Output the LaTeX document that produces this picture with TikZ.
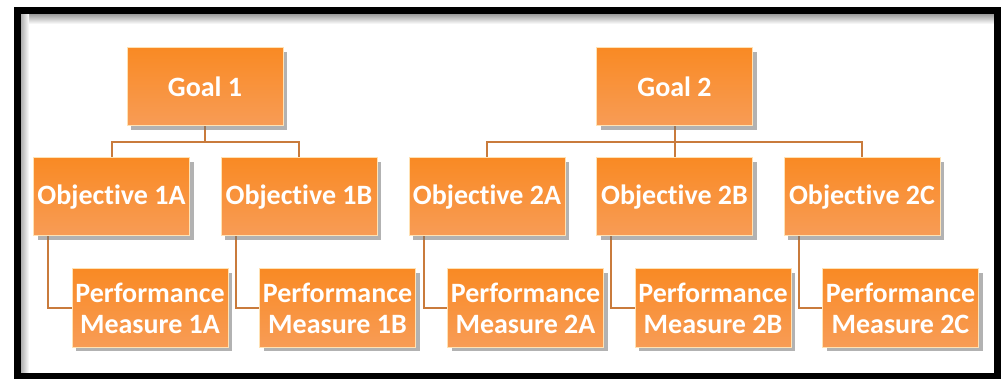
\documentclass[tikz,border=0pt]{standalone}
\usepackage{fontspec}
\setmainfont{Carlito}[Ligatures={NoCommon,NoDiscretionary}]
\usetikzlibrary{shadows,backgrounds}

\definecolor{boxtop}{HTML}{F98A24}
\definecolor{boxbot}{HTML}{F89C56}
\definecolor{boxedge}{HTML}{FFE2B4}
\definecolor{linkcol}{HTML}{C97B3C}

\tikzset{
  goalbox/.style={rectangle, top color=boxtop, bottom color=boxbot,
    draw=boxedge, line width=1pt, minimum width=156pt, minimum height=78pt,
    inner sep=0pt, align=center, text=white,
    font=\fontsize{28}{31}\selectfont\bfseries,
    drop shadow={shadow xshift=4pt, shadow yshift=-4pt, fill=black!55, opacity=0.55}},
  link/.style={draw=linkcol, line width=2pt}
}

\begin{document}
\begin{tikzpicture}[x=1pt, y=-1pt]
        \useasboundingbox (0,0) rectangle (1001,379);

        % frame
        \shade[top color=black!35, bottom color=white] (20,15) rectangle (994,24);
        \shade[left color=black!35, right color=white] (20,15) rectangle (29,373);
        \draw[line width=7pt] (17,11) rectangle (997,376);

        % goals
        \node[goalbox] (g1) at (205,87) {Goal 1};
        \node[goalbox] (g2) at (674.5,87) {Goal 2};

        % objectives
        \node[goalbox] (o1a) at (111.5,197) {Objective 1A};
        \node[goalbox] (o1b) at (299,197) {Objective 1B};
        \node[goalbox] (o2a) at (487,197) {Objective 2A};
        \node[goalbox] (o2b) at (674.5,197) {Objective 2B};
        \node[goalbox] (o2c) at (862,197) {Objective 2C};

        % performance measures
        \node[goalbox] (p1a) at (150,308) {Performance\\Measure 1A};
        \node[goalbox] (p1b) at (337.5,308) {Performance\\Measure 1B};
        \node[goalbox] (p2a) at (525.5,308) {Performance\\Measure 2A};
        \node[goalbox] (p2b) at (713,308) {Performance\\Measure 2B};
        \node[goalbox] (p2c) at (900.5,308) {Performance\\Measure 2C};

        % links
        \coordinate (bus1) at ([yshift=-16pt]g1.south);
        \coordinate (bus2) at ([yshift=-16pt]g2.south);
        \begin{pgfonlayer}{background}
        \draw[link] (g1.south) -- (bus1);
        \draw[link] (g2.south) -- (bus2);
        \foreach \o in {o1a,o1b}
            \draw[link] (bus1) -| (\o.north);
        \foreach \o in {o2a,o2b,o2c}
            \draw[link] (bus2) -| (\o.north);
        \foreach \o/\p in {o1a/p1a,o1b/p1b,o2a/p2a,o2b/p2b,o2c/p2c}
            \draw[link] ([xshift=15pt]\o.south west) |- (\p.west);
        \end{pgfonlayer}
    \end{tikzpicture}
\end{document}
